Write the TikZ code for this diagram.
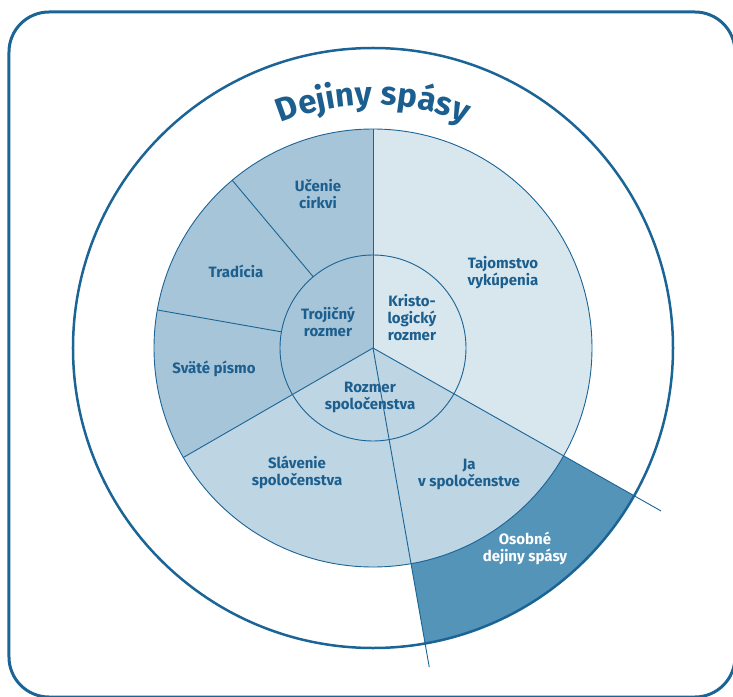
\documentclass[tikz,border=0pt]{standalone}
\usepackage{fontspec}
\setmainfont{Fira Sans}
\usetikzlibrary{decorations.text}
\definecolor{linie}{HTML}{1B6496}
\definecolor{textblau}{HTML}{1C5F8E}
\definecolor{hell}{HTML}{D8E6EE}
\definecolor{mittel}{HTML}{BED5E3}
\definecolor{satt}{HTML}{A7C5D8}
\definecolor{dunkel}{HTML}{5494B9}
\begin{document}
\begin{tikzpicture}[x=1pt,y=1pt,declare function={ri=93;rm=219;ro=300;rt=243;},
  feld/.style={draw=linie,line width=0.9pt},
  sektortext/.style={font=\bfseries\fontsize{15}{17}\selectfont,text=textblau,align=center,inner sep=0pt}]
  \useasboundingbox (-373,-348) rectangle (360,348);
  % Rahmen
  \draw[linie,line width=3pt,rounded corners=40pt] (-364,336) rectangle (362,-349);
  % Flaechen
  \fill[hell] (0,0) -- (-29.5:rm) arc[start angle=-29.5,end angle=90,radius=rm] -- cycle;
  \fill[satt] (0,0) -- (90:rm) arc[start angle=90,end angle=210,radius=rm] -- cycle;
  \fill[mittel] (0,0) -- (210:rm) arc[start angle=210,end angle=330.5,radius=rm] -- cycle;
  \fill[dunkel] (-80:rm) arc[start angle=-80,end angle=-29.5,radius=rm]
    -- (-29.5:ro) arc[start angle=-29.5,end angle=-80,radius=ro] -- cycle;
  % Linien
  \foreach \w in {90,210} \draw[feld] (0,0) -- (\w:rm);
  \foreach \w in {130,170} \draw[feld] (\w:ri) -- (\w:rm);
  \draw[feld] (0,0) -- (-29.5:331);
  \draw[feld] (0,0) -- (-80:324);
  \draw[feld] (0,0) circle[radius=ri];
  \draw[feld] (0,0) circle[radius=rm];
  \draw[linie,line width=2.5pt] (0,0) circle[radius=ro];
  % Titel
  \path[decorate,decoration={text along path,text align=center,text color=textblau,
    text={|\bfseries\fontsize{33}{33}\selectfont|Dejiny spásy}}]
    (155:rt) arc[start angle=155,end angle=25,radius=rt];
  % Texte
  \foreach \px/\py/\name/\txt in {%
    -55/154/ucenie/{Učenie\\cirkvi}, -137/77/tradicia/{Tradícia},
    -159/-21/pismo/{Sväté písmo}, -76/-124/slavenie/{Slávenie\\spoločenstva},
    96/-126/ja/{Ja\\v spoločenstve}, 130/75/tajomstvo/{Tajomstvo\\vykúpenia},
    -45/26/trojicny/{Trojičný\\rozmer}, 39/30/kristo/{Kristo-\\logický\\rozmer},
    -3/-49/rozmer/{Rozmer\\spoločenstva}%
  }{%
  \node[sektortext] (\name) at (\px,\py) {\txt};
  }%
  \node[sektortext,text=white] (osobne) at (152,-200) {Osobné\\dejiny spásy};
\end{tikzpicture}
\end{document}
